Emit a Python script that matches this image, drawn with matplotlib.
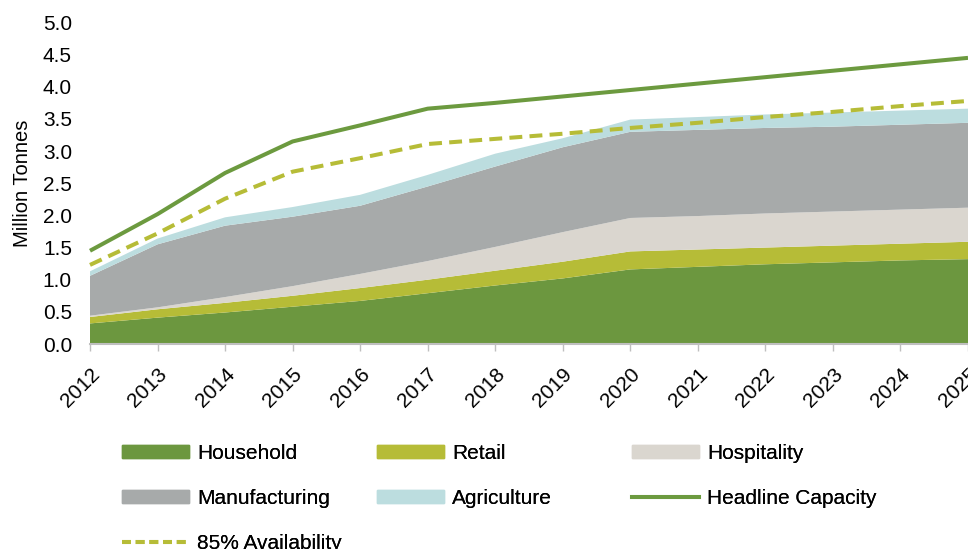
import matplotlib

matplotlib.use("Agg")
import matplotlib.pyplot as plt  # noqa: E402
import matplotlib.transforms as mtransforms  # noqa: E402
from matplotlib.lines import Line2D  # noqa: E402
from matplotlib.patches import Patch  # noqa: E402

plt.rcParams["font.family"] = ["Liberation Sans", "DejaVu Sans"]

years = list(range(2012, 2026))

# waste arisings by sector, million tonnes (stacked)
household = [0.32, 0.41, 0.49, 0.58, 0.67, 0.79, 0.91, 1.02, 1.16, 1.20, 1.24, 1.27, 1.30, 1.32]
retail = [0.10, 0.13, 0.15, 0.17, 0.20, 0.21, 0.23, 0.26, 0.28, 0.27, 0.26, 0.26, 0.26, 0.27]
hospitality = [0.02, 0.03, 0.09, 0.15, 0.22, 0.29, 0.37, 0.46, 0.52, 0.52, 0.53, 0.53, 0.53, 0.53]
manufacturing = [0.62, 0.98, 1.11, 1.08, 1.06, 1.16, 1.25, 1.32, 1.34, 1.34, 1.33, 1.32, 1.32, 1.32]
agriculture = [0.07, 0.09, 0.13, 0.15, 0.17, 0.18, 0.20, 0.14, 0.19, 0.20, 0.21, 0.22, 0.22, 0.22]

# treatment capacity, million tonnes
headline = [1.45, 2.02, 2.66, 3.15, 3.40, 3.66, 3.75, 3.85, 3.95, 4.05, 4.15, 4.25, 4.35, 4.45]
availability = [1.23, 1.72, 2.26, 2.68, 2.89, 3.11, 3.19, 3.27, 3.36, 3.44, 3.53, 3.61, 3.70, 3.78]

sectors = ["Household", "Retail", "Hospitality", "Manufacturing", "Agriculture"]
colors = ["#6C973F", "#B6BC37", "#DAD6CF", "#A7AAAA", "#BCDDDF"]
LINE_GREEN = "#6C9A3F"
LINE_YELLOW = "#B6BC37"

fig = plt.figure(figsize=(9.68, 5.49), dpi=100)
ax = fig.add_axes([90 / 968, 205 / 549, 878 / 968, 321.5 / 549])

ax.stackplot(years, household, retail, hospitality, manufacturing, agriculture,
             colors=colors, linewidth=0)
ax.plot(years, headline, color=LINE_GREEN, lw=2.9, solid_capstyle="butt", clip_on=False, zorder=5)
ax.plot(years, availability, color=LINE_YELLOW, lw=2.9, dashes=(3.2, 1.8), clip_on=False, zorder=5)

ax.set_xlim(2012, 2025)
ax.set_ylim(0, 5.0)
ax.set_yticks([i * 0.5 for i in range(11)])
ax.set_yticklabels([f"{i * 0.5:.1f}" for i in range(11)], fontsize=15)
ax.set_xticks(years)
ax.set_xticklabels([str(y) for y in years], fontsize=15, rotation=45,
                   ha="right", va="top", rotation_mode="anchor")
shift = mtransforms.ScaledTranslation(-4 / 100, -3 / 100, fig.dpi_scale_trans)
for lab in ax.get_xticklabels():
    lab.set_transform(lab.get_transform() + shift)

for side in ("top", "right", "left"):
    ax.spines[side].set_visible(False)
ax.spines["bottom"].set_color("#BFBFBF")
ax.spines["bottom"].set_linewidth(1.5)
ax.tick_params(axis="y", length=0, pad=13)
ax.tick_params(axis="x", length=5, width=1, color="#BFBFBF", pad=10)

ax.set_ylabel("Million Tonnes", fontsize=14.5)
ax.yaxis.set_label_coords(-0.066, 0.5)

# legend laid out as three fixed-width columns
fs = 15
common = dict(frameon=False, fontsize=fs, borderpad=0, borderaxespad=0,
              handlelength=3.2, handleheight=0.55, handletextpad=0.4,
              labelspacing=1.25, loc="upper left")
col1 = [Patch(color=colors[0], label="Household"),
        Patch(color=colors[3], label="Manufacturing"),
        Line2D([], [], color=LINE_YELLOW, lw=2.9, dashes=(2.2, 1.2), label="85% Availability")]
col2 = [Patch(color=colors[1], label="Retail"),
        Patch(color=colors[4], label="Agriculture")]
col3 = [Patch(color=colors[2], label="Hospitality"),
        Line2D([], [], color=LINE_GREEN, lw=2.9, label="Headline Capacity")]
for handles, x0 in ((col1, 122), (col2, 377), (col3, 632)):
    leg = fig.legend(handles=handles, bbox_to_anchor=(x0 / 968, (549 - 444) / 549), **common)
    fig.add_artist(leg)

fig.savefig("out.png", dpi=100)
